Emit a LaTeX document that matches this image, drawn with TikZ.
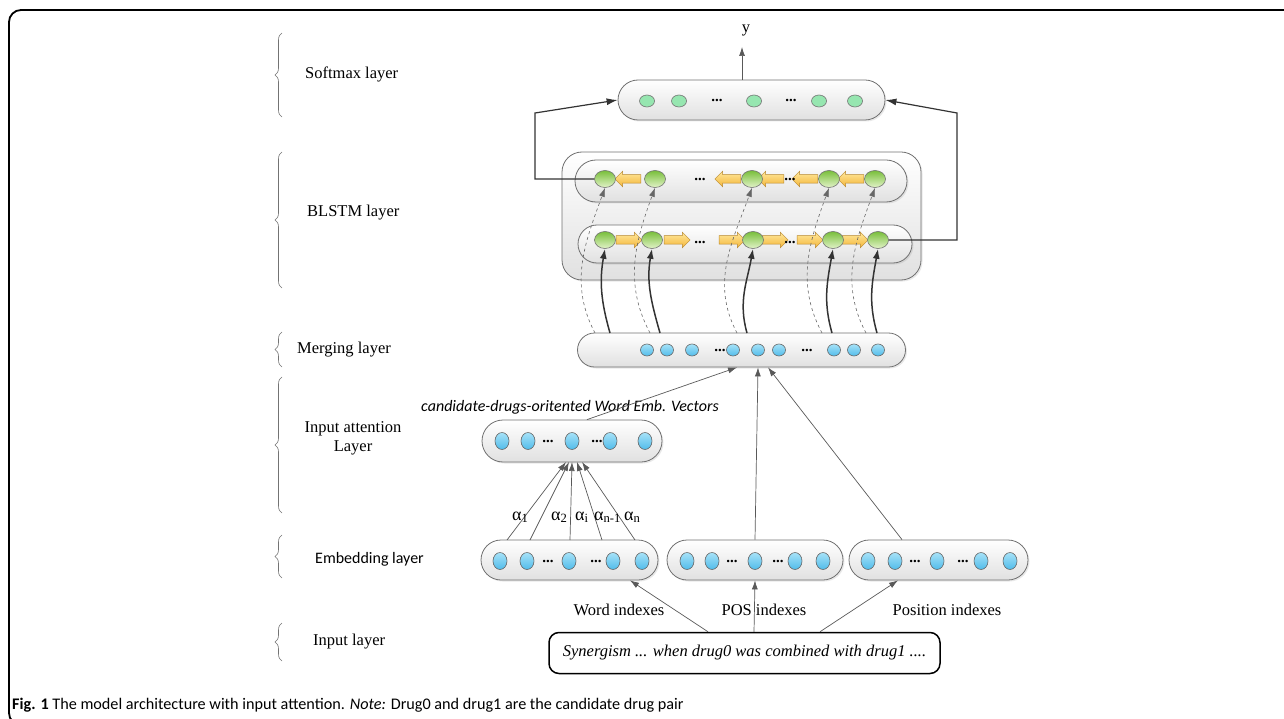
\documentclass[tikz,border=0pt]{standalone}
\usepackage{fontspec}
\setmainfont{Liberation Serif}
\newfontfamily\capsans{Carlito}
\usetikzlibrary{arrows.meta, positioning, shapes.geometric, shapes.arrows, decorations.pathreplacing, shadows}

\definecolor{boxline}{HTML}{707070}
\definecolor{bluetop}{HTML}{A6E2F8}
\definecolor{bluebot}{HTML}{52BCEA}
\definecolor{greentop}{HTML}{78BE3A}
\definecolor{greenbot}{HTML}{E2F3C8}
\definecolor{softgreen}{HTML}{96E6B0}
\definecolor{arrtop}{HTML}{FFE89C}
\definecolor{arrbot}{HTML}{F4B63A}
\definecolor{arrline}{HTML}{B8882E}

\begin{document}
\begin{tikzpicture}[x=1pt, y=1pt,
  lbl/.style={font=\fontsize{16.5}{19}\selectfont, inner sep=0pt},
  alpha/.style={inner sep=0pt, anchor=base west, font=\fontsize{18}{18}\selectfont},
  brace/.style={decorate, decoration={brace, amplitude=7pt}, draw=black!55, line width=0.6pt},
  pill/.style={draw=boxline, line width=0.8pt, top color=white, bottom color=black!12,
    drop shadow={opacity=0.18, shadow xshift=1.5pt, shadow yshift=-1.5pt}},
  bluedot/.style={ellipse, draw=black!60, line width=0.6pt, inner sep=0pt,
    minimum width=14pt, minimum height=17pt, top color=bluetop, bottom color=bluebot},
  mergedot/.style={bluedot, minimum width=13pt, minimum height=12pt},
  greendot/.style={ellipse, draw=black!55, line width=0.6pt, inner sep=0pt,
    minimum width=21pt, minimum height=17pt, top color=greentop, bottom color=greenbot},
  softdot/.style={ellipse, draw=black!55, line width=0.6pt, inner sep=0pt,
    minimum width=15pt, minimum height=12pt, fill=softgreen},
  elide/.style={font=\fontsize{15}{15}\selectfont\bfseries, inner sep=0pt},
  fwarr/.style={single arrow, draw=arrline, line width=0.5pt, top color=arrtop, bottom color=arrbot,
    minimum height=26pt, inner xsep=0pt, inner ysep=4pt, single arrow head extend=3.5pt},
  bwarr/.style={fwarr, shape border rotate=180},
  link/.style={draw=black!65, line width=0.7pt, -{Latex[length=9pt,width=6pt]}},
  joint/.style={draw=black!80, line width=1.2pt, -{Latex[length=11pt,width=7pt]}},
  feed/.style={draw=black!80, line width=1.5pt, -{Latex[length=10pt,width=7pt]}},
  back/.style={draw=black!60, dashed, line width=0.6pt, -{Latex[length=9pt,width=6pt]}},
]
\useasboundingbox (0,0) rectangle (1284,-719);

% Frame
\draw[line width=1.8pt, rounded corners=12pt] (1300,-10) -- (9,-10) -- (9,-725) -- (1300,-725);

% Layer names
\draw[brace] (282,-117) -- (282,-33);
\draw[brace] (282,-288) -- (282,-152);
\draw[brace] (282,-367) -- (282,-332);
\draw[brace] (282,-513) -- (282,-377);
\draw[brace] (282,-578) -- (282,-535);
\draw[brace] (282,-661) -- (282,-623);
\node[lbl, anchor=west] (lsoft) at (305,-74) {Softmax layer};
\node[lbl, anchor=west] (lblstm) at (307,-213) {BLSTM layer};
\node[lbl, anchor=west] (lmerge) at (297,-350) {Merging layer};
\node[lbl, align=center] (latt) at (353,-438) {Input attention\\Layer};
\node[lbl, anchor=west, font=\capsans\fontsize{16}{18}\selectfont] (lemb) at (315,-559) {Embedding layer};
\node[lbl, anchor=west] (linp) at (313,-642) {Input layer};

% Softmax layer
\node[pill, rounded corners=20pt, minimum width=267pt, minimum height=40pt] (soft) at (751.5,-100) {};
\foreach \x [count=\i] in {647,679,754,819,855}
  \node[softdot] (sm\i) at (\x,-101) {};
\node[elide] (smd1) at (717,-100) {...};
\node[elide] (smd2) at (791,-100) {...};
\node[lbl] (yout) at (746,-30) {y};
\coordinate (ytip) at (742,-47);
\draw[link] ([xshift=-9.5pt]soft.north) -- (ytip);

% BLSTM layer
\node[pill, rounded corners=20pt, minimum width=359pt, minimum height=128pt] (blstm) at (741.5,-216) {};
\node[pill, rounded corners=21pt, minimum width=332pt, minimum height=42pt] (bwrow) at (741,-181) {};
\node[pill, rounded corners=19pt, minimum width=334pt, minimum height=38pt] (fwrow) at (745,-244) {};
\foreach \x [count=\i] in {630,730,773,807,853}
  \node[bwarr] (bwa\i) at (\x,-179) {};
\foreach \x [count=\i] in {627,675,730,773,808,853}
  \node[fwarr] (fwa\i) at (\x,-240) {};
\foreach \x [count=\i] in {605,655,752,829,875}
  \node[greendot] (bw\i) at (\x,-179) {};
\foreach \x [count=\i] in {605,652,753,833,878}
  \node[greendot] (fw\i) at (\x,-240) {};
\node[elide] (bwd1) at (700,-179) {...};
\node[elide] (bwd2) at (790,-179) {...};
\node[elide] (fwd1) at (700,-242) {...};
\node[elide] (fwd2) at (790,-242) {...};

% BLSTM -> softmax
\coordinate (lturn) at (535,-113);
\coordinate (rturn) at (957,-113);
\draw[joint] (bw1.west) -| (lturn) -- (soft.west);
\draw[joint] (fw5.east) -| (rturn) -- (soft.east);

% Merging layer
\node[pill, rounded corners=17pt, minimum width=328pt, minimum height=34pt] (merge) at (741.5,-350) {};
\foreach \x [count=\i] in {647,667,692,733,758,779,834,854,878}
  \node[mergedot] (mg\i) at (\x,-350) {};
\node[elide] (mgd1) at (720,-350) {...};
\node[elide] (mgd2) at (807,-350) {...};

% merging -> BLSTM
\foreach \x [count=\i] in {610,660,747,832,877} {
  \coordinate (fin\i) at (\x,-333);
  \draw[feed] (fin\i) to[out=106,in=-100] (fw\i.south);
}
\foreach \x [count=\i] in {595,650,737,822,866} {
  \coordinate (bin\i) at (\x,-333);
  \draw[back] (bin\i) to[out=118,in=-110] (bw\i.south);
}

% Input attention layer
\node[pill, rounded corners=21pt, minimum width=180pt, minimum height=42pt] (att) at (572,-441) {};
\foreach \x [count=\i] in {502,528,572,610,645}
  \node[bluedot] (at\i) at (\x,-441) {};
\node[elide] (atd1) at (548,-441) {...};
\node[elide] (atd2) at (597,-441) {...};
\node[font=\capsans\itshape\fontsize{16}{18}\selectfont, inner sep=0pt] (attlbl) at (570,-407)
  {candidate-drugs-oritented Word Emb. Vectors};

% Embedding layer
\node[pill, rounded corners=20pt, minimum width=177pt, minimum height=40pt] (wemb) at (569.5,-560) {};
\node[pill, rounded corners=20pt, minimum width=176pt, minimum height=40pt] (pemb) at (755,-560) {};
\node[pill, rounded corners=20pt, minimum width=179pt, minimum height=40pt] (remb) at (938.5,-560) {};
\foreach \x [count=\i] in {500,527,569,613,642}
  \node[bluedot] (we\i) at (\x,-561) {};
\foreach \x [count=\i] in {687,712,755,795,823}
  \node[bluedot] (pe\i) at (\x,-561) {};
\foreach \x [count=\i] in {868,895,937,981,1010}
  \node[bluedot] (re\i) at (\x,-561) {};
\node[elide] (wed1) at (548,-561) {...};
\node[elide] (wed2) at (596,-561) {...};
\node[elide] (ped1) at (732,-561) {...};
\node[elide] (ped2) at (778,-561) {...};
\node[elide] (red1) at (915,-561) {...};
\node[elide] (red2) at (963,-561) {...};

% attention weights
\foreach \x [count=\i] in {507,530,570,602,635}
  \coordinate (asrc\i) at (\x,-540);
\foreach \x [count=\i] in {566,569,572,577,582}
  \coordinate (adst\i) at (\x,-462);
\foreach \i in {1,...,5}
  \draw[link] (asrc\i) -- (adst\i);
\node[alpha] (al1) at (512,-520) {α\textsubscript{1}};
\node[alpha] (al2) at (551,-520) {α\textsubscript{2}};
\node[alpha] (al3) at (575,-520) {α\textsubscript{i}};
\node[alpha] (al4) at (594,-520) {α\textsubscript{n-1}};
\node[alpha] (al5) at (624,-520) {α\textsubscript{n}};

% into merging layer
\draw[link] ([xshift=15pt]att.north) -- ([xshift=-4.5pt]merge.south);
\draw[link] (pemb.north) -- ([xshift=16.5pt]merge.south);
\draw[link] ([xshift=-36.5pt]remb.north) -- ([xshift=26.5pt]merge.south);

% Input layer
\node[draw, line width=1.5pt, rounded corners=10pt, minimum width=391pt, minimum height=41pt,
  font=\fontsize{16.5}{19}\selectfont\itshape] (sent) at (744.5,-653)
  {Synergism ... when drug0 was combined with drug1 ....};
\draw[link] ([xshift=-36.5pt]sent.north) -- ([xshift=60.5pt]wemb.south);
\draw[link] ([xshift=9.5pt]sent.north) -- (pemb.south);
\draw[link] ([xshift=75.5pt]sent.north) -- ([xshift=-40.5pt]remb.south);
\node[lbl] (wlbl) at (619,-610) {Word indexes};
\node[lbl] (plbl) at (764,-610) {POS indexes};
\node[lbl] (rlbl) at (947,-610) {Position indexes};

% Caption
\node[anchor=base west, inner sep=0pt, font=\capsans\fontsize{16.2}{18}\selectfont] (cap) at (12,-709)
  {\textbf{Fig. 1} The model architecture with input attention. \textit{Note:} Drug0 and drug1 are the candidate drug pair};
\end{tikzpicture}
\end{document}
